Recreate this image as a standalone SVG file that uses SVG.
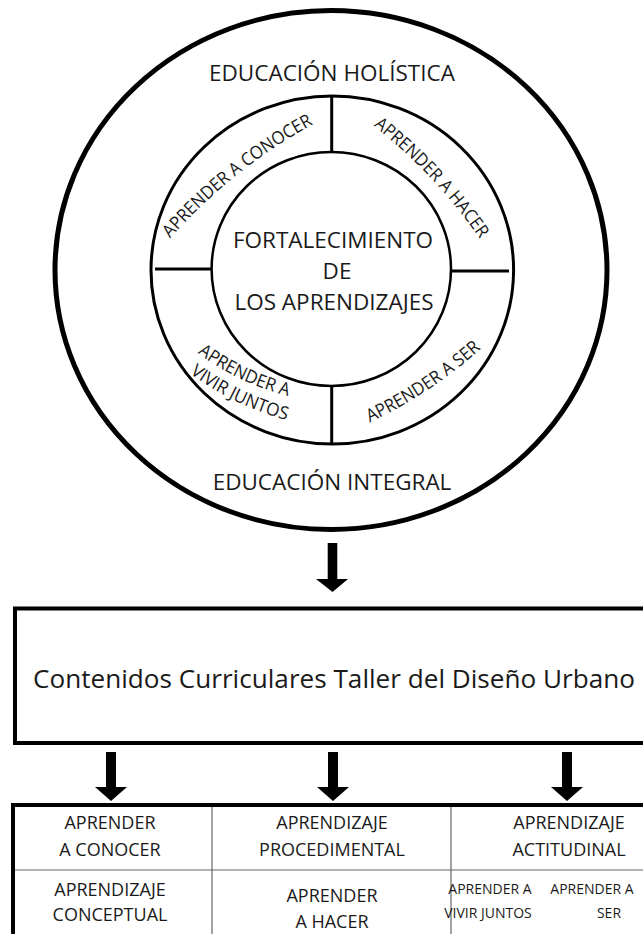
<svg xmlns="http://www.w3.org/2000/svg" width="643" height="934" viewBox="0 0 643 934">
<style>
  .t{font-family:"Open Sans","Liberation Sans",sans-serif;fill:#1a1a1a;text-anchor:middle}
  .big{font-size:22.5px}
  .ring{font-size:18px}
  .cell{font-size:18px}
  .small{font-size:14px}
  .ln{fill:none;stroke:#000}
  .thin{stroke:#666;stroke-width:1.2;fill:none}
  .arrow{fill:#000}
</style>
<defs>
  <path id="pConocer" d="M169.8,238.8 Q231.8,168.8 313.6,124.1"/>
  <path id="pHacer" d="M373.2,125.5 Q435.3,174.2 480,239.2"/>
  <path id="pSer" d="M369.1,422.8 Q430.8,393.8 481.5,348.2"/>
  <path id="pVivir1" d="M197.4,352.8 Q238.6,383.4 288.4,396"/>
  <path id="pVivir2" d="M189.4,373.2 Q233.9,405.7 286.9,420.1"/>
</defs>
<rect width="643" height="934" fill="#fff"/>

<g id="educacion">
  <ellipse class="ln" cx="331" cy="270" rx="276" ry="259.5" stroke-width="5"/>
  <text class="t big" x="332" y="81">EDUCACIÓN HOLÍSTICA</text>
  <text class="t big" x="332" y="490">EDUCACIÓN INTEGRAL</text>
</g>

<g id="anillo">
  <ellipse class="ln" cx="332.3" cy="270" rx="181.3" ry="174" stroke-width="3"/>
  <line class="ln" x1="331.7" y1="96" x2="331.7" y2="152" stroke-width="3"/>
  <line class="ln" x1="331.7" y1="386" x2="331.7" y2="444" stroke-width="3"/>
  <line class="ln" x1="155" y1="269" x2="212" y2="269" stroke-width="3"/>
  <line class="ln" x1="451" y1="271" x2="509" y2="271" stroke-width="3"/>
  <text class="t ring"><textPath href="#pConocer" startOffset="50%" textLength="184" lengthAdjust="spacingAndGlyphs">APRENDER A CONOCER</textPath></text>
  <text class="t ring"><textPath href="#pHacer" startOffset="50%" textLength="156" lengthAdjust="spacingAndGlyphs">APRENDER A HACER</textPath></text>
  <text class="t ring"><textPath href="#pSer" startOffset="50%" textLength="134" lengthAdjust="spacingAndGlyphs">APRENDER A SER</textPath></text>
  <text class="t ring"><textPath href="#pVivir1" startOffset="50%" textLength="101" lengthAdjust="spacingAndGlyphs">APRENDER A</textPath></text>
  <text class="t ring"><textPath href="#pVivir2" startOffset="50%" textLength="108" lengthAdjust="spacingAndGlyphs">VIVIR JUNTOS</textPath></text>
</g>

<g id="fortalecimiento">
  <ellipse class="ln" cx="331.3" cy="269" rx="119.7" ry="117" stroke-width="2.5"/>
  <text class="t big" x="333" y="248">FORTALECIMIENTO</text>
  <text class="t big" x="337" y="279">DE</text>
  <text class="t big" x="334" y="310">LOS APRENDIZAJES</text>
</g>

<g id="contenidos">
  <rect x="15" y="608.5" width="640" height="134.5" fill="none" stroke="#000" stroke-width="4"/>
  <text class="t" x="334" y="688" font-size="26" textLength="602" lengthAdjust="spacingAndGlyphs">Contenidos Curriculares Taller del Diseño Urbano</text>
</g>

<g id="tabla">
  <path class="ln" d="M13,950 V805 H660" stroke-width="4"/>
  <line class="thin" x1="15" y1="870" x2="643" y2="870"/>
  <line class="thin" x1="212" y1="807" x2="212" y2="934"/>
  <line class="thin" x1="451" y1="807" x2="451" y2="934"/>
  <text class="t cell" x="110" y="829">APRENDER</text>
  <text class="t cell" x="110" y="856">A CONOCER</text>
  <text class="t cell" x="332" y="829">APRENDIZAJE</text>
  <text class="t cell" x="332" y="856">PROCEDIMENTAL</text>
  <text class="t cell" x="569" y="829">APRENDIZAJE</text>
  <text class="t cell" x="569" y="856">ACTITUDINAL</text>
  <text class="t cell" x="110" y="896">APRENDIZAJE</text>
  <text class="t cell" x="110" y="921">CONCEPTUAL</text>
  <text class="t cell" x="332" y="902">APRENDER</text>
  <text class="t cell" x="332" y="928">A HACER</text>
  <text class="t small" x="490" y="894">APRENDER A</text>
  <text class="t small" x="488" y="918">VIVIR JUNTOS</text>
  <text class="t small" x="592" y="894">APRENDER A</text>
  <text class="t small" x="609" y="918">SER</text>
</g>

<g id="conectores">
  <path class="arrow" d="M327.7,543 H337.3 V579 H348 L332.5,592 L316,579 H327.7 Z"/>
  <path class="arrow" d="M106,752 H116 V787 H127 L111,801 L95,787 H106 Z"/>
  <path class="arrow" d="M328,752 H338 V787 H349 L333,801 L317,787 H328 Z"/>
  <path class="arrow" d="M562,752 H572 V787 H583 L567,801 L551,787 H562 Z"/>
</g>
</svg>
